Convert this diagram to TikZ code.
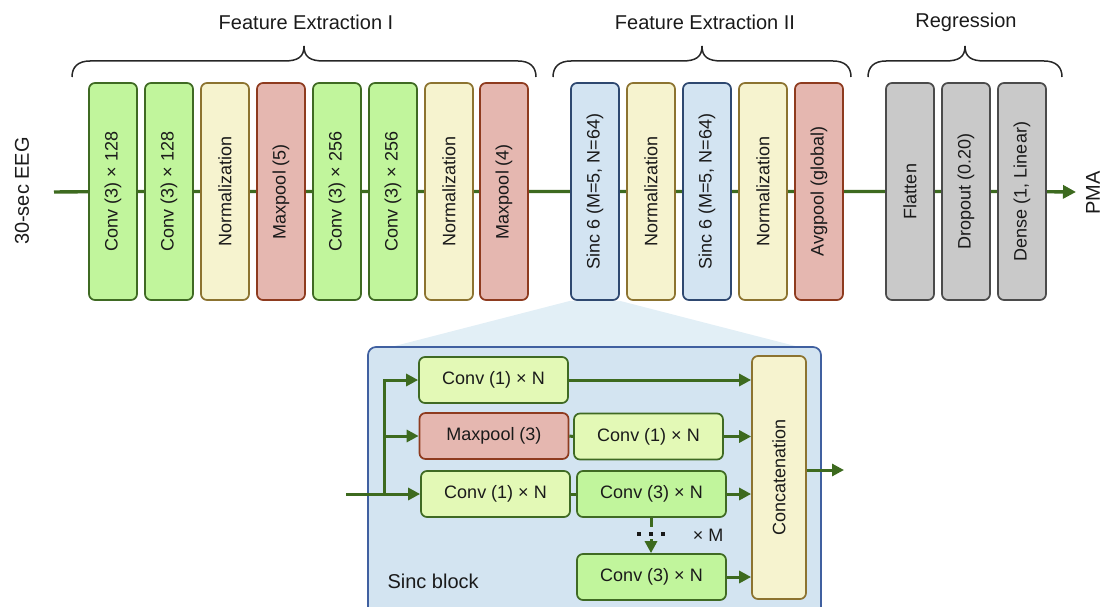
\documentclass[tikz,border=0pt]{standalone}
\usepackage{fontspec}
\setmainfont{Liberation Sans}
\usetikzlibrary{arrows.meta,backgrounds,calc}
\definecolor{convfill}{HTML}{C1F59C}
\definecolor{convdraw}{HTML}{3F6A23}
\definecolor{lconvfill}{HTML}{E3F9B6}
\definecolor{normfill}{HTML}{F6F3CF}
\definecolor{normdraw}{HTML}{8C7330}
\definecolor{poolfill}{HTML}{E5B7B0}
\definecolor{pooldraw}{HTML}{8E3B1F}
\definecolor{sincfill}{HTML}{D3E4F2}
\definecolor{sincdraw}{HTML}{2E4870}
\definecolor{grayfill}{HTML}{C9C9C9}
\definecolor{graydraw}{HTML}{4B4B4B}
\definecolor{blockfill}{HTML}{D3E4F1}
\definecolor{blockdraw}{HTML}{4060A0}
\definecolor{funnelc}{HTML}{E2EFF6}
\definecolor{linegreen}{HTML}{3D6A1F}
\definecolor{txt}{HTML}{1A1A1A}
\newcommand\mybrace[3]{%
  \draw[bracestyle] (#1,77) .. controls (#1,67) and (#1+6,61) .. (#1+18,61) -- (#2-20,61)
    .. controls (#2-6,61) and (#2,57) .. (#2,46)
    .. controls (#2,57) and (#2+6,61) .. (#2+20,61) -- (#3-18,61)
    .. controls (#3-6,61) and (#3,67) .. (#3,77);}
\newcommand\vt[1]{\rotatebox{90}{#1}}
\begin{document}
\begin{tikzpicture}[x=1pt,y=-1pt,
  font=\fontsize{18}{20}\selectfont, text=txt,
  tall/.style={draw, line width=1.7pt, rounded corners=6pt, minimum width=48pt, minimum height=217pt, inner sep=0pt},
  conv/.style={tall, fill=convfill, draw=convdraw},
  norm/.style={tall, fill=normfill, draw=normdraw},
  pool/.style={tall, fill=poolfill, draw=pooldraw},
  sinc/.style={tall, fill=sincfill, draw=sincdraw},
  gray/.style={tall, fill=grayfill, draw=graydraw},
  wide/.style={draw, line width=1.7pt, rounded corners=6pt, minimum width=149pt, minimum height=46pt, inner sep=0pt},
  lconv/.style={wide, fill=lconvfill, draw=convdraw},
  dconv/.style={wide, fill=convfill, draw=convdraw},
  wpool/.style={wide, fill=poolfill, draw=pooldraw},
  title/.style={font=\fontsize{20}{22}\selectfont},
  bracestyle/.style={draw=black!85, line width=1.5pt},
  mainline/.style={draw=linegreen, line width=3.4pt},
  gline/.style={draw=linegreen, line width=3pt},
  garrow/.style={gline, -{Triangle[length=12pt,width=12pt]}},
]
\useasboundingbox (0,0) rectangle (1103,607);

% top row
\node[conv] (b1) at (113,191.5) {\vt{Conv (3) × 128}};
\node[conv] (b2) at (169,191.5) {\vt{Conv (3) × 128}};
\node[norm] (b3) at (225,191.5) {\vt{Normalization}};
\node[pool] (b4) at (281,191.5) {\vt{Maxpool (5)}};
\node[conv] (b5) at (337,191.5) {\vt{Conv (3) × 256}};
\node[conv] (b6) at (393,191.5) {\vt{Conv (3) × 256}};
\node[norm] (b7) at (449,191.5) {\vt{Normalization}};
\node[pool] (b8) at (504,191.5) {\vt{Maxpool (4)}};
\node[sinc] (b9) at (595,191.5) {\vt{Sinc 6 (M=5, N=64)}};
\node[norm] (b10) at (651,191.5) {\vt{Normalization}};
\node[sinc] (b11) at (707,191.5) {\vt{Sinc 6 (M=5, N=64)}};
\node[norm] (b12) at (763,191.5) {\vt{Normalization}};
\node[pool] (b13) at (819,191.5) {\vt{Avgpool (global)}};
\node[gray] (b14) at (910,191.5) {\vt{Flatten}};
\node[gray] (b15) at (966,191.5) {\vt{Dropout (0.20)}};
\node[gray] (b16) at (1022,191.5) {\vt{Dense (1, Linear)}};

\node[title, rotate=90] (eeg) at (22,191) {30-sec EEG};
\node[title, rotate=90] (pma) at (1093,193) {PMA};
\coordinate (start) at (54,192);
\coordinate (stop) at (1076,192);

% braces and titles
\mybrace{72}{304}{536}
\mybrace{553}{702}{851}
\mybrace{868}{965}{1062}
\node[title] (t1) at (306,22) {Feature Extraction I};
\node[title] (t2) at (705,22) {Feature Extraction II};
\node[title] (t3) at (966,22) {Regression};

% sinc block
\node[draw=blockdraw, fill=blockfill, line width=1.7pt, rounded corners=8pt, minimum width=453pt, minimum height=280pt] (blk) at (594.5,487) {};
\node[title, anchor=west] (blklabel) at (384,581) {Sinc block};

\node[lconv] (c1a) at (493.5,380) {Conv (1) × N};
\node[wpool] (mp) at (494,436) {Maxpool (3)};
\node[lconv] (c1c) at (495.5,494) {Conv (1) × N};
\node[lconv] (c1b) at (648.5,436.5) {Conv (1) × N};
\node[dconv] (c3a) at (651.5,494) {Conv (3) × N};
\node[dconv] (c3b) at (651.5,577) {Conv (3) × N};
\node[draw=normdraw, fill=normfill, line width=1.7pt, rounded corners=6pt, minimum width=54pt, minimum height=243pt, inner sep=0pt] (cat) at (779,477.5) {\vt{Concatenation}};
\node (xm) at (708,535) {× M};

\coordinate (in) at (346,494);
\coordinate (br) at (384,494);
\coordinate (out) at (844,470);
\coordinate (dA) at (651,527);
\coordinate (dB) at (651,539);

\draw[gline] (in) -- (br);
\draw[garrow] (br) |- (c1a.west);
\draw[garrow] (br) |- (mp.west);
\draw[garrow] (br) -- (c1c.west);
\draw[gline] (mp.east) -- (c1b.west);
\draw[gline] (c1c.east) -- (c3a.west);
\draw[garrow] (c1a.east) -- (c1a.east -| cat.west);
\draw[garrow] (c1b.east) -- (c1b.east -| cat.west);
\draw[garrow] (c3a.east) -- (c3a.east -| cat.west);
\draw[garrow] (c3b.east) -- (c3b.east -| cat.west);
\draw[garrow] (cat.east |- out) -- (out);
\draw[gline] (c3a.south -| dA) -- (dA);
\draw[garrow] (dB) -- (c3b.north -| dB);
\foreach \xx in {639,651,663} \fill[black!90] (\xx-2,532) rectangle (\xx+2,536);

\begin{pgfonlayer}{background}
  \fill[funnelc] (b9.south west) -- (b9.south east) -- (803,348) -- (387,348) -- cycle;
  \draw[mainline] (start) -- (b1) -- (b2) -- (b3) -- (b4) -- (b5) -- (b6) -- (b7) -- (b8)
    -- (b9) -- (b10) -- (b11) -- (b12) -- (b13) -- (b14) -- (b15) -- (b16);
  \draw[mainline, -{Triangle[length=13pt,width=13pt]}] (b16) -- (stop);
\end{pgfonlayer}
\end{tikzpicture}
\end{document}
